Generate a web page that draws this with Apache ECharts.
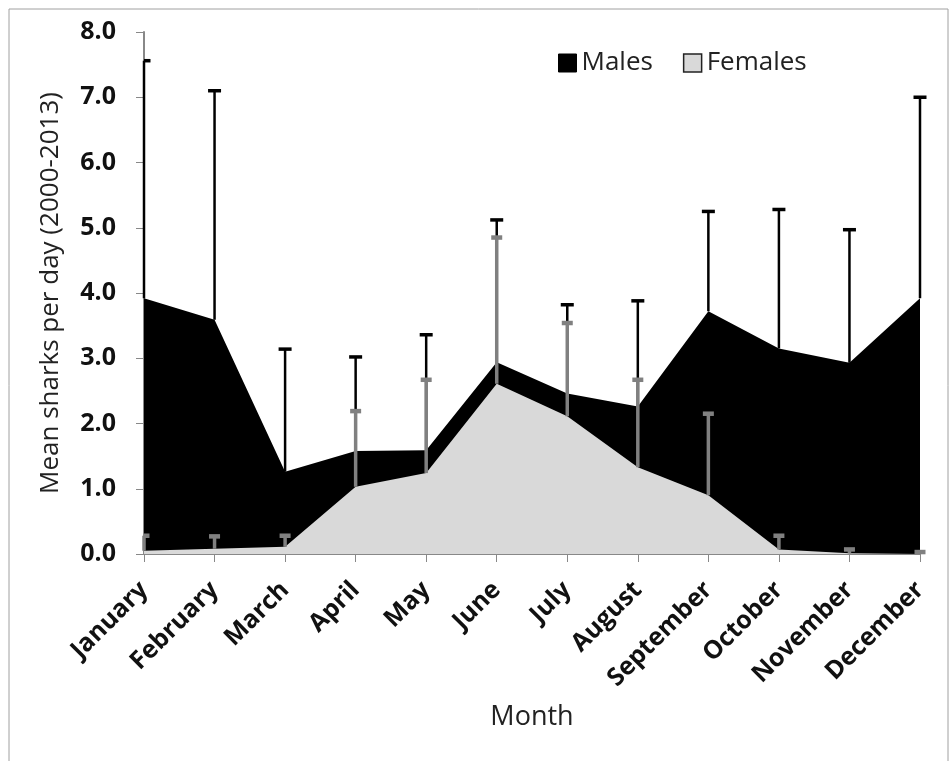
<!DOCTYPE html>
<html><head><meta charset="utf-8">
<script src="https://cdn.jsdelivr.net/npm/echarts@6/dist/echarts.min.js"></script>
<style>html,body{margin:0;padding:0;background:#fff}#c{width:951px;height:761px}</style>
</head><body><div id="c"></div>
<script>
var months = ["January","February","March","April","May","June","July","August","September","October","November","December"];
var males = [3.92, 3.59, 1.26, 1.58, 1.59, 2.94, 2.46, 2.26, 3.72, 3.15, 2.93, 3.92];
var malesUpper = [7.56, 7.10, 3.14, 3.02, 3.36, 5.12, 3.82, 3.88, 5.25, 5.28, 4.97, 7.00];
var females = [0.05, 0.08, 0.11, 1.03, 1.24, 2.61, 2.11, 1.33, 0.90, 0.07, 0.01, 0.00];
var femalesUpper = [0.28, 0.27, 0.28, 2.19, 2.67, 4.85, 3.54, 2.67, 2.15, 0.28, 0.07, 0.03];
var yTicks = [0, 1, 2, 3, 4, 5, 6, 7, 8];

function errData(mean, upper){ return mean.map(function(m,i){ return [i, m, upper[i]]; }); }
function errRender(color, lw, capW){
  return function(params, api){
    var lo = api.coord([api.value(0), api.value(1)]);
    var hi = api.coord([api.value(0), api.value(2)]);
    var clip = params.coordSys;
    return {type:'group', children:[
      {type:'line', shape:{x1:lo[0],y1:lo[1],x2:hi[0],y2:hi[1]}, style:{stroke:color,lineWidth:lw}},
      {type:'line', shape:{x1:Math.max(hi[0]-capW/2, clip.x),y1:hi[1],x2:hi[0]+capW/2,y2:hi[1]}, style:{stroke:color,lineWidth:lw+1}}
    ]};
  };
}

var chart = echarts.init(document.getElementById('c'));
var FONT = 'Open Sans';
chart.setOption({
  animation:false,
  textStyle:{fontFamily:FONT},
  graphic:[{type:'rect', shape:{x:9,y:9,width:939,height:760}, style:{fill:'none',stroke:'#a0a0a0',lineWidth:1}, silent:true}],
  legend:{
    top:45, left:553, itemWidth:18, itemHeight:18, itemGap:30,
    icon:'rect',
    textStyle:{fontSize:26, color:'#222', fontFamily:FONT},
    data:[
      {name:'Males', itemStyle:{color:'#000', borderColor:'#000', borderWidth:1}},
      {name:'Females', itemStyle:{color:'#d9d9d9', borderColor:'#222', borderWidth:1.5}}
    ]
  },
  grid:{left:144, right:31, top:32, bottom:207},
  xAxis:{
    type:'category', data:months, boundaryGap:false,
    name:'Month', nameLocation:'middle', nameGap:150,
    nameTextStyle:{fontSize:27, color:'#222', fontFamily:FONT},
    axisLine:{lineStyle:{color:'#888', width:2}},
    axisTick:{show:true, alignWithLabel:true, length:8, lineStyle:{color:'#888'}},
    axisLabel:{rotate:45, fontSize:25, fontWeight:'bold', color:'#111', margin:32, fontFamily:FONT, interval:0}
  },
  yAxis:{
    type:'value', min:0, max:8, interval:1,
    name:'Mean sharks per day (2000-2013)', nameLocation:'middle', nameGap:80,
    nameTextStyle:{fontSize:26, color:'#222', fontFamily:FONT},
    axisLine:{show:true, lineStyle:{color:'#888', width:2}},
    axisTick:{show:true, length:8, lineStyle:{color:'#888'}},
    splitLine:{show:false},
    axisLabel:{fontSize:25, fontWeight:'bold', color:'#111', margin:28, fontFamily:FONT,
      formatter:function(v){ return yTicks.indexOf(v) >= 0 ? v.toFixed(1) : ''; }}
  },
  series:[
    {name:'Males', type:'line', data:males, symbol:'none', lineStyle:{width:0}, areaStyle:{color:'#000', opacity:1}, itemStyle:{color:'#000'}, z:2},
    {name:'Females', type:'line', data:females, symbol:'none', lineStyle:{width:0}, areaStyle:{color:'#d9d9d9', opacity:1}, itemStyle:{color:'#d9d9d9'}, z:3},
    {type:'custom', data:errData(males, malesUpper), renderItem:errRender('#000', 2.5, 13), z:4, encode:{x:0, y:[1,2]}},
    {type:'custom', data:errData(females, femalesUpper), renderItem:errRender('#808080', 3.5, 11), z:5, encode:{x:0, y:[1,2]}}
  ]
});
</script></body></html>
